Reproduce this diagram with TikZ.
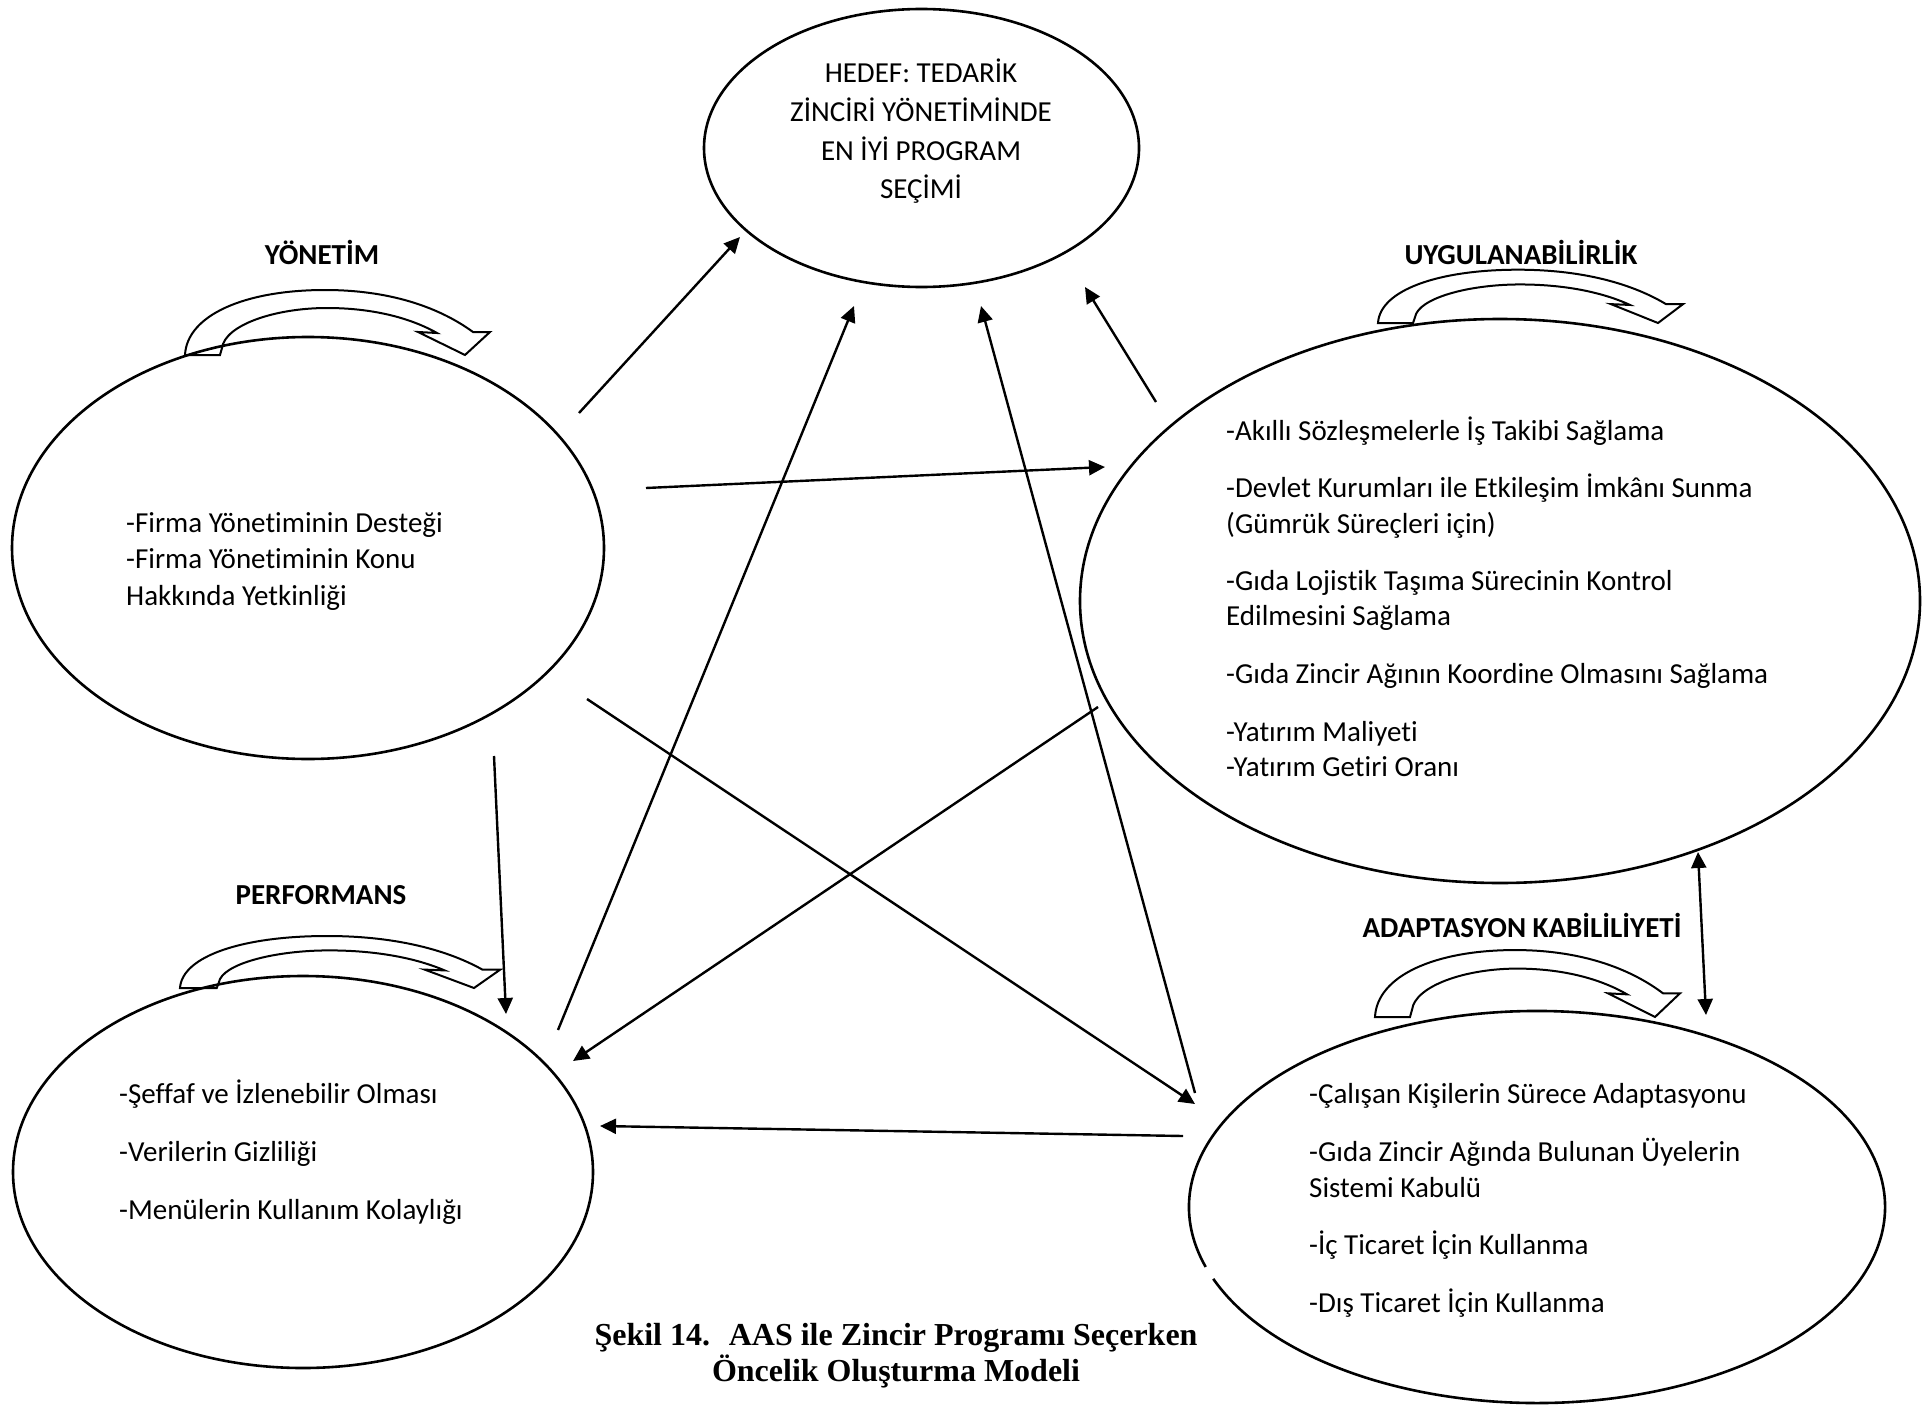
\documentclass[tikz,border=0pt]{standalone}
\usepackage{fontspec}
\setmainfont{Carlito}[Ligatures={NoCommon,NoContextual}]
\newfontfamily\capfont{Liberation Serif}
\usetikzlibrary{arrows.meta,shapes.geometric}

% hollow curved arrow drawn above each criterion group
\tikzset{
  turnarrow/.pic={
    \draw[line width=2pt, line join=miter]
      (0,0) .. controls (2,-40) and (60,-65) .. (140,-65)
      .. controls (210,-65) and (258,-45) .. (288,-23)
      -- (305,-23) -- (280,0) -- (233,-23) -- (252,-22)
      .. controls (220,-40) and (180,-47) .. (142,-47)
      .. controls (90,-47) and (40,-30) .. (37,-7)
      -- (35,0) -- cycle;
  }
}

\begin{document}
\begin{tikzpicture}[x=1pt,y=-1pt,
  bubble/.style={ellipse, draw, line width=2.6pt, inner sep=0pt},
  link/.style={line width=2.4pt, -{Triangle[length=16pt,width=15pt]}},
  twoway/.style={line width=2.4pt, {Triangle[length=16pt,width=15pt]}-{Triangle[length=16pt,width=15pt]}},
  item/.style={anchor=base west, inner sep=0pt, font=\fontsize{29}{36}\selectfont},
  goal/.style={anchor=base, inner sep=0pt, font=\fontsize{29}{36}\selectfont},
  head/.style={anchor=base, inner sep=0pt, font=\fontsize{29}{35}\selectfont\bfseries},
  capt/.style={anchor=base, inner sep=0pt, font={\capfont\bfseries\fontsize{32}{37}\selectfont}}
]
\useasboundingbox (0,0) rectangle (1922,1407);

% ---- criterion groups ----
\node[bubble, minimum width=435pt, minimum height=278pt] (hedef) at (921.5,148) {};
\node[bubble, minimum width=592pt, minimum height=422pt] (yon) at (308,548) {};
\node[bubble, minimum width=840pt, minimum height=564pt] (uyg) at (1500,601) {};
\node[bubble, minimum width=580pt, minimum height=392pt] (perf) at (303,1172) {};
\node[ellipse, minimum width=696pt, minimum height=392pt, inner sep=0pt] (adap) at (1537,1207) {};
\draw[line width=2.6pt] ([shift={(201.5:348pt and 196pt)}]adap.center)
  arc[start angle=201.5, end angle=557.8, x radius=348pt, y radius=196pt];

% ---- goal text ----
\node[goal] (h1) at (921,83) {HEDEF: TEDARİK};
\node[goal] (h2) at (921,122) {ZİNCİRİ YÖNETİMİNDE};
\node[goal] (h3) at (921,161) {EN İYİ PROGRAM};
\node[goal] (h4) at (921,199) {SEÇİMİ};

% ---- headings ----
\node[head] (tyon) at (322,265) {YÖNETİM};
\node[head] (tuyg) at (1521,265) {UYGULANABİLİRLİK};
\node[head] (tperf) at (321,904) {PERFORMANS};
\node[head] (tadap) at (1522,937) {ADAPTASYON KABİLİLİYETİ};

% ---- curved arrows ----
\pic at (185,355) {turnarrow};
\pic[yscale=0.82] at (1378,323) {turnarrow};
\pic[xscale=1.05, yscale=0.8] at (180,988) {turnarrow};
\pic[yscale=1.03] at (1375,1017) {turnarrow};

% ---- items ----
\node[item] (y1) at (126,532) {-Firma Yönetiminin Desteği};
\node[item] (y2) at (126,568) {-Firma Yönetiminin Konu};
\node[item] (y3) at (126,605) {Hakkında Yetkinliği};

\node[item] (u1) at (1226,440) {-Akıllı Sözleşmelerle İş Takibi Sağlama};
\node[item] (u2) at (1226,497) {-Devlet Kurumları ile Etkileşim İmkânı Sunma};
\node[item] (u3) at (1226,533) {(Gümrük Süreçleri için)};
\node[item] (u4) at (1226,590) {-Gıda Lojistik Taşıma Sürecinin Kontrol};
\node[item] (u5) at (1226,625) {Edilmesini Sağlama};
\node[item] (u6) at (1226,683) {-Gıda Zincir Ağının Koordine Olmasını Sağlama};
\node[item] (u7) at (1226,741) {-Yatırım Maliyeti};
\node[item] (u8) at (1226,776) {-Yatırım Getiri Oranı};

\node[item] (p1) at (119,1103) {-Şeffaf ve İzlenebilir Olması};
\node[item] (p2) at (119,1161) {-Verilerin Gizliliği};
\node[item] (p3) at (119,1219) {-Menülerin Kullanım Kolaylığı};

\node[item] (a1) at (1309,1103) {-Çalışan Kişilerin Sürece Adaptasyonu};
\node[item] (a2) at (1309,1161) {-Gıda Zincir Ağında Bulunan Üyelerin};
\node[item] (a3) at (1309,1197) {Sistemi Kabulü};
\node[item] (a4) at (1309,1254) {-İç Ticaret İçin Kullanma};
\node[item] (a5) at (1309,1312) {-Dış Ticaret İçin Kullanma};

% ---- connector ends ----
\coordinate (yon-h) at (579,413);   \coordinate (hedef-y) at (740,237);
\coordinate (yon-u) at (646,488);   \coordinate (uyg-y) at (1105,467);
\coordinate (yon-p) at (494,756);   \coordinate (perf-y) at (506,1014);
\coordinate (yon-a) at (587,699);   \coordinate (adap-y) at (1195,1104);
\coordinate (perf-h) at (558,1030); \coordinate (hedef-p) at (854,306);
\coordinate (uyg-h) at (1156,402);  \coordinate (hedef-u) at (1085,287);
\coordinate (uyg-p) at (1098,707);  \coordinate (perf-u) at (573,1061);
\coordinate (adap-h) at (1195,1093);\coordinate (hedef-a) at (981,306);
\coordinate (adap-p) at (1183,1136);\coordinate (perf-a) at (600,1126);
\coordinate (uyg-a) at (1698,852);  \coordinate (adap-u) at (1706,1015);

% ---- connectors ----
\draw[link] (yon-h) -- (hedef-y);
\draw[link] (yon-u) -- (uyg-y);
\draw[link] (yon-p) -- (perf-y);
\draw[link] (yon-a) -- (adap-y);
\draw[link] (perf-h) -- (hedef-p);
\draw[link] (uyg-h) -- (hedef-u);
\draw[link] (uyg-p) -- (perf-u);
\draw[link] (adap-h) -- (hedef-a);
\draw[link] (adap-p) -- (perf-a);
\draw[twoway] (uyg-a) -- (adap-u);

% ---- caption ----
\node[capt] (cap1) at (896,1345) {Şekil 14.~ AAS ile Zincir Programı Seçerken};
\node[capt] (cap2) at (896,1381) {Öncelik Oluşturma Modeli};
\end{tikzpicture}
\end{document}
